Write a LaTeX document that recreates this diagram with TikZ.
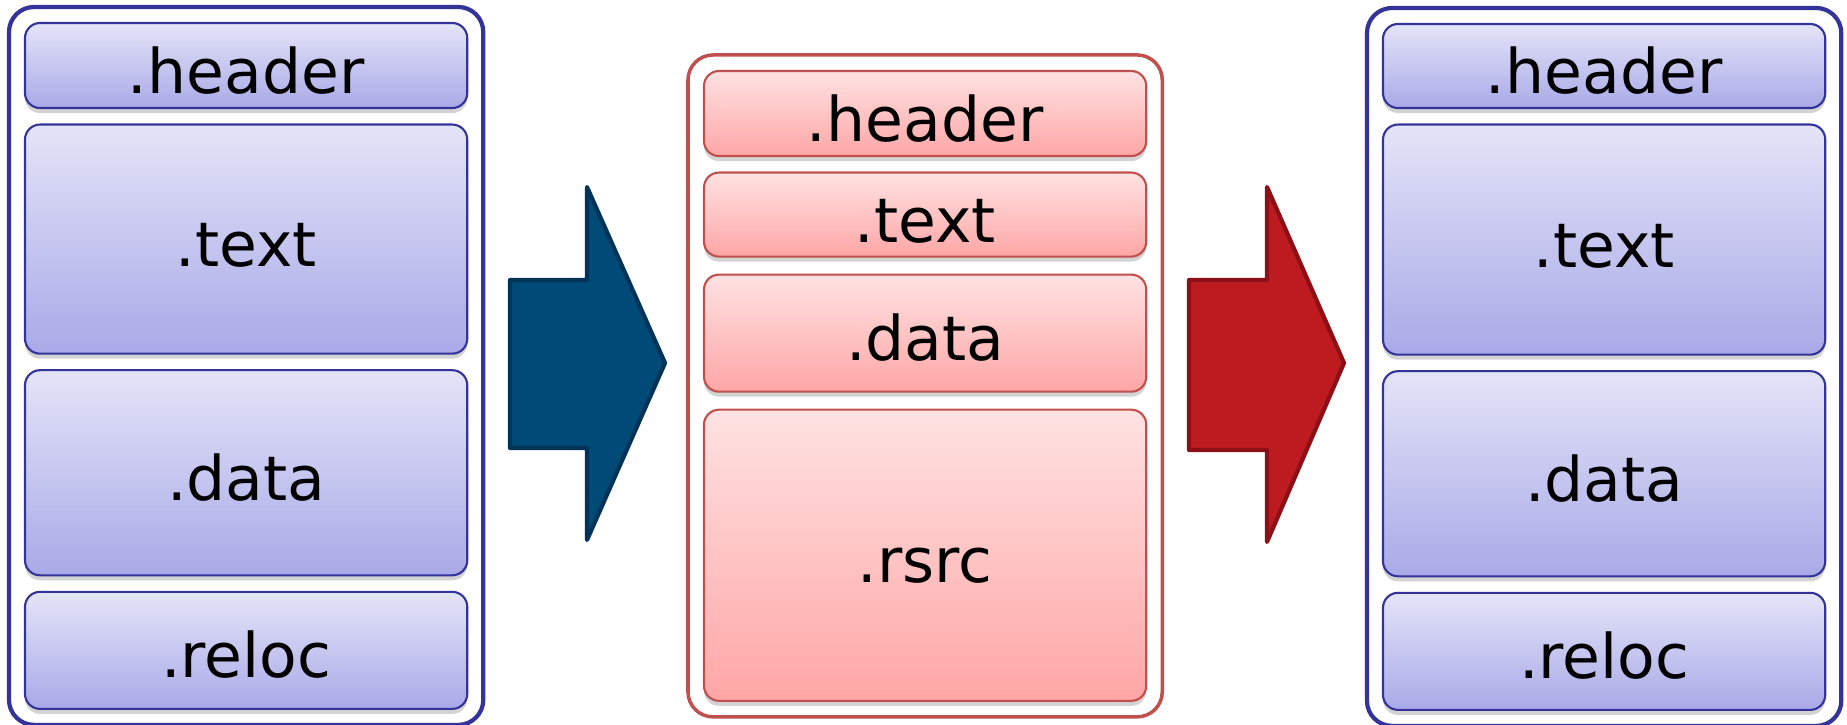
\documentclass[tikz,border=0pt]{standalone}
\usepackage{fontspec}
\setmainfont{DejaVu Sans}
\usetikzlibrary{positioning,fit,shadows}

\definecolor{bluebord}{HTML}{333399}
\definecolor{bluetop}{HTML}{E4E4F8}
\definecolor{bluebot}{HTML}{A9A9E8}
\definecolor{redbord}{HTML}{C0504D}
\definecolor{redtop}{HTML}{FFE2E2}
\definecolor{redbot}{HTML}{FFA6A6}
\definecolor{arrblue}{HTML}{004A78}
\definecolor{arrblueb}{HTML}{003358}
\definecolor{arrred}{HTML}{BE1B20}
\definecolor{arrredb}{HTML}{8C1015}

\tikzset{
	sec/.style = {
		rectangle, rounded corners=0.15cm,
		minimum width=4.42cm,
		line width=0.6pt,
		outer sep=0pt,
		text height=0.55cm, text depth=0pt,
		font=\fontsize{17.5}{21}\selectfont,
		drop shadow={shadow xshift=0pt, shadow yshift=-0.05cm, opacity=0.35},
		node distance=0.165cm
		},
	bluesec/.style = {sec, draw=bluebord, top color=bluetop, bottom color=bluebot},
	redsec/.style = {sec, draw=redbord, top color=redtop, bottom color=redbot},
	outer/.style = {draw, rounded corners=0.25cm, inner sep=0.16cm},
	bigarrow/.style = {line width=1.2pt, line join=round}
}

\begin{document}
\begin{tikzpicture}[x=0.01cm, y=-0.01cm]
	\useasboundingbox (0,0) rectangle (1847,725);

	% original image
	\node [bluesec, anchor=north west, minimum height=0.85cm] (lhdr) at (25,23) {.header};
	\node [bluesec, below=of lhdr, minimum height=2.29cm] (ltxt) {.text};
	\node [bluesec, below=of ltxt, minimum height=2.05cm] (ldat) {.data};
	\node [bluesec, below=of ldat, minimum height=1.17cm] (lrel) {.reloc};
	\node [outer, draw=bluebord, line width=1.2pt, fit=(lhdr)(lrel)] (lout) {};

	% packed image
	\node [redsec, anchor=north west, minimum height=0.85cm] (mhdr) at (704,71) {.header};
	\node [redsec, below=of mhdr, minimum height=0.84cm] (mtxt) {.text};
	\node [redsec, below=0.18cm of mtxt, minimum height=1.17cm] (mdat) {.data};
	\node [redsec, below=0.18cm of mdat, minimum height=2.91cm] (mrsrc) {.rsrc};
	\node [outer, draw=redbord, line width=1pt, fit=(mhdr)(mrsrc)] (mout) {};

	% restored image
	\node [bluesec, anchor=north west, minimum height=0.84cm] (rhdr) at (1383,24) {.header};
	\node [bluesec, below=of rhdr, minimum height=2.30cm] (rtxt) {.text};
	\node [bluesec, below=of rtxt, minimum height=2.05cm] (rdat) {.data};
	\node [bluesec, below=of rdat, minimum height=1.17cm] (rrel) {.reloc};
	\node [outer, draw=bluebord, line width=1.2pt, fit=(rhdr)(rrel)] (rout) {};

	% arrows
	\draw [bigarrow, fill=arrblue, draw=arrblueb]
		(510,280) -- (587,280) -- (587,187) -- (665,363)
		-- (587,540) -- (587,448) -- (510,448) -- cycle;
	\draw [bigarrow, fill=arrred, draw=arrredb]
		(1189,280) -- (1267,280) -- (1267,187) -- (1344,363)
		-- (1267,542) -- (1267,450) -- (1189,450) -- cycle;

\end{tikzpicture}
\end{document}
